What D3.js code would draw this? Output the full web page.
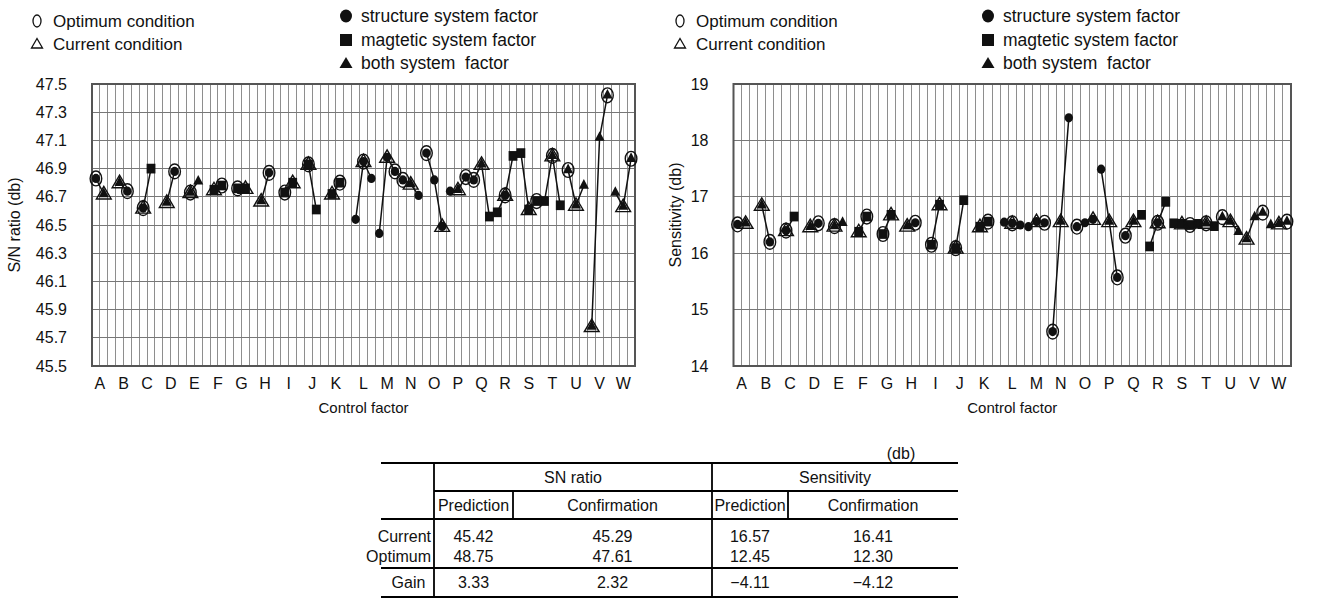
<!DOCTYPE html>
<html><head><meta charset="utf-8">
<script src="https://cdn.jsdelivr.net/npm/d3@7"></script>
<style>
body{margin:0;background:#fff;}
svg{display:block;}
text{font-family:"Liberation Sans",Arial,sans-serif;fill:#111;}
</style>
</head><body><svg id="c" width="1321" height="605"></svg>
<script>
// ---------------- data ----------------
const factors = ["A","B","C","D","E","F","G","H","I","J","K","L","M","N","O","P","Q","R","S","T","U","V","W"];
// marker of each level: c = structure (circle), s = magnetic (square), t = both (triangle)
const markerTypes = [
  ["c","t"],["t","c"],["c","s"],["t","c"],["t","t"],["s","s"],["s","s"],["t","c"],["s","s"],["s","s"],["s","s"],
  ["c","c","c"],["c","c","c"],["c","t","c"],["c","c","c"],["c","t","c"],["c","t","s"],["s","c","s"],
  ["s","s","s"],["s","t","s"],["t","t","t"],["t","t","t"],["t","t","t"]
];
const snRatio = [
  [46.83,46.72],[46.80,46.74],[46.62,46.90],[46.66,46.88],[46.73,46.81],[46.75,46.78],[46.76,46.76],
  [46.67,46.87],[46.73,46.80],[46.93,46.61],[46.72,46.80],
  [46.54,46.95,46.83],[46.44,46.98,46.88],[46.82,46.79,46.71],[47.01,46.82,46.49],[46.74,46.75,46.84],
  [46.82,46.93,46.56],[46.59,46.71,46.99],[47.01,46.61,46.67],[46.67,46.99,46.64],[46.89,46.64,46.78],
  [45.78,47.12,47.42],[46.73,46.63,46.97]
];
const sensitivity = [
  [16.51,16.53],[16.85,16.20],[16.40,16.65],[16.47,16.53],[16.48,16.54],[16.38,16.65],[16.34,16.68],
  [16.48,16.54],[16.15,16.86],[16.09,16.94],[16.47,16.56],
  [16.55,16.53,16.50],[16.47,16.56,16.54],[14.61,16.56,18.40],[16.47,16.54,16.60],[17.49,16.56,15.57],
  [16.31,16.56,16.68],[16.12,16.54,16.91],[16.53,16.52,16.50],[16.52,16.53,16.48],[16.64,16.56,16.38],
  [16.25,16.64,16.72],[16.50,16.52,16.56]
];
const optimumLevel = [0,1,0,1,0,1,0,1,0,0,1,1,2,0,0,2,0,1,2,1,0,2,2];
const currentLevel = [1,0,0,0,0,0,1,0,1,0,0,1,1,1,2,1,1,1,1,1,1,0,1];
const slotsPerFactor = 3;
const snTicks = [45.5,45.7,45.9,46.1,46.3,46.5,46.7,46.9,47.1,47.3,47.5];
const sensTicks = [14,15,16,17,18,19];

const legendLeft = ["Optimum condition","Current condition"];
const legendRight = ["structure system factor","magtetic system factor","both system  factor"];

const tableGroups = ["SN ratio","Sensitivity"];
const tableCols = ["Prediction","Confirmation","Prediction","Confirmation"];
const tableRows = ["Current","Optimum","Gain"];
const tableValues = [
  ["45.42","45.29","16.57","16.41"],
  ["48.75","47.61","12.45","12.30"],
  ["3.33","2.32","\u22124.11","\u22124.12"]
];
const tableUnit = "(db)";

// ---------------- drawing ----------------
const svg = d3.select("#c");
const nSlots = factors.length * slotsPerFactor;

function markerPath(type){
  if(type==="s") return d3.symbol().type(d3.symbolSquare).size(78)();
  if(type==="t") return d3.symbol().type(d3.symbolTriangle).size(44)();
  return null;
}

function drawChart(cfg){
  const g = svg.append("g");
  const x = d3.scaleBand().domain(d3.range(nSlots)).range([cfg.x0,cfg.x1]).padding(0);
  const y = d3.scaleLinear().domain(cfg.domain).range([cfg.y1,cfg.y0]);
  const cx = s => x(s) + x.bandwidth()/2;

  // grid
  const grid = g.append("g").attr("shape-rendering","crispEdges");
  grid.selectAll("line.v").data(d3.range(1,nSlots)).join("line")
    .attr("x1",d=>x(d)).attr("x2",d=>x(d)).attr("y1",cfg.y0).attr("y2",cfg.y1)
    .attr("stroke","#8e8e8e").attr("stroke-width",1);
  grid.selectAll("line.h").data(cfg.ticks.slice(1,-1)).join("line")
    .attr("x1",cfg.x0).attr("x2",cfg.x1).attr("y1",d=>y(d)).attr("y2",d=>y(d))
    .attr("stroke","#777").attr("stroke-width",1);
  g.append("rect").attr("x",cfg.x0).attr("y",cfg.y0).attr("width",cfg.x1-cfg.x0).attr("height",cfg.y1-cfg.y0)
    .attr("fill","none").attr("stroke","#555").attr("stroke-width",2);

  // y axis labels
  const yAxis = d3.axisLeft(y).tickValues(cfg.ticks).tickSize(0).tickPadding(25).tickFormat(cfg.fmt);
  const ya = g.append("g").attr("transform",`translate(${cfg.x0},0)`).call(yAxis);
  ya.select(".domain").remove();
  ya.selectAll("text").attr("font-size",16).attr("font-family","Liberation Sans, Arial, sans-serif").attr("fill","#111");

  // x factor labels, centred on each factor's levels
  g.selectAll("text.fl").data(factors).join("text")
    .attr("x",(d,i)=> d3.mean(cfg.values[i], (v,l)=>cx(i*slotsPerFactor+l)))
    .attr("y",cfg.y1+23).attr("text-anchor","middle").attr("font-size",16).text(d=>d);

  g.append("text").attr("x",(cfg.x0+cfg.x1)/2).attr("y",cfg.y1+47).attr("text-anchor","middle")
    .attr("font-size",15).text("Control factor");
  g.append("text").attr("transform",`translate(${cfg.titleX},${cfg.titleY}) rotate(-90)`)
    .attr("text-anchor","middle").attr("font-size",16).text(cfg.title);

  // points
  const pts = [];
  cfg.values.forEach((arr,f)=>arr.forEach((v,l)=>pts.push({f,l,v,slot:f*slotsPerFactor+l,type:markerTypes[f][l]})));

  const line = d3.line().x(d=>cx(d.slot)).y(d=>y(d.v));
  g.selectAll("path.ln").data(d3.range(factors.length)).join("path")
    .attr("d",f=>line(pts.filter(p=>p.f===f))).attr("fill","none").attr("stroke","#111").attr("stroke-width",1.5);

  // filled markers
  g.selectAll("ellipse.fc").data(pts.filter(p=>p.type==="c")).join("ellipse")
    .attr("cx",d=>cx(d.slot)).attr("cy",d=>y(d.v)).attr("rx",4.2).attr("ry",4.6).attr("fill","#111");
  g.selectAll("path.fm").data(pts.filter(p=>p.type!=="c")).join("path")
    .attr("transform",d=>`translate(${cx(d.slot)},${y(d.v)}) scale(1,1.1)`)
    .attr("d",d=>markerPath(d.type)).attr("fill","#111");

  // optimum (open circle) and current (open triangle)
  const opt = factors.map((f,i)=>pts.find(p=>p.f===i && p.l===optimumLevel[i]));
  const cur = factors.map((f,i)=>pts.find(p=>p.f===i && p.l===currentLevel[i]));
  g.selectAll("ellipse.oc").data(opt).join("ellipse")
    .attr("cx",d=>cx(d.slot)).attr("cy",d=>y(d.v)).attr("rx",5.8).attr("ry",7.4)
    .attr("fill","none").attr("stroke","#111").attr("stroke-width",1.4);
  g.selectAll("path.ot").data(cur).join("path")
    .attr("transform",d=>`translate(${cx(d.slot)},${y(d.v)})`)
    .attr("d","M0,-7.5L7.4,5L-7.4,5Z")
    .attr("fill","none").attr("stroke","#111").attr("stroke-width",1.4);

  // legends
  const lg = g.append("g").attr("transform",`translate(${cfg.legX},0)`);
  lg.append("ellipse").attr("cx",0).attr("cy",21).attr("rx",4).attr("ry",6).attr("fill","none").attr("stroke","#111").attr("stroke-width",1.3);
  lg.append("path").attr("transform","translate(0,44)").attr("d","M0,-5.5L5.5,4L-5.5,4Z").attr("fill","none").attr("stroke","#111").attr("stroke-width",1.3);
  lg.selectAll("text.l1").data(legendLeft).join("text").attr("x",16).attr("y",(d,i)=>27+i*23).attr("font-size",17).text(d=>d);

  const lg2 = g.append("g").attr("transform",`translate(${cfg.legX2},0)`);
  lg2.append("ellipse").attr("cx",0).attr("cy",16).attr("rx",6).attr("ry",6.5).attr("fill","#111");
  lg2.append("rect").attr("x",-6).attr("y",34).attr("width",12).attr("height",12).attr("fill","#111");
  lg2.append("path").attr("transform","translate(0,63)").attr("d","M0,-6L6.5,5L-6.5,5Z").attr("fill","#111");
  lg2.selectAll("text.l2").data(legendRight).join("text").attr("x",15).attr("y",(d,i)=>22+i*23.5)
    .attr("font-size",17.5).attr("xml:space","preserve").style("white-space","pre").text(d=>d);
}

drawChart({x0:92,x1:635,y0:84,y1:366,domain:[45.5,47.5],ticks:snTicks,fmt:d3.format(".1f"),values:snRatio,
  title:"S/N ratio (db)",titleX:20,titleY:225,legX:37,legX2:346});
drawChart({x0:733.5,x1:1291,y0:84,y1:366,domain:[14,19],ticks:sensTicks,fmt:d3.format("d"),values:sensitivity,
  title:"Sensitivity (db)",titleX:681,titleY:215,legX:680,legX2:988});

// ---------------- table ----------------
const t = svg.append("g").attr("class","tbl");
const colEdges = [381,434,513,712,788,958];   // x boundaries of table columns
const rowY = {top:463,h1:491,h2:519,data:568,bottom:597};
const colX = d3.scaleOrdinal().domain(d3.range(4)).range(d3.range(4).map(i=>(colEdges[i+1]+colEdges[i+2])/2));
const hline = (y,xa,xb)=>t.append("line").attr("x1",xa).attr("x2",xb).attr("y1",y).attr("y2",y).attr("stroke","#000").attr("stroke-width",1.8);
const vline = (x,ya,yb)=>t.append("line").attr("x1",x).attr("x2",x).attr("y1",ya).attr("y2",yb).attr("stroke","#000").attr("stroke-width",1.8);
hline(rowY.top,colEdges[0],colEdges[5]);
hline(rowY.h1,colEdges[1],colEdges[5]);
hline(rowY.h2,colEdges[0],colEdges[5]);
hline(rowY.data,colEdges[0],colEdges[5]);
hline(rowY.bottom,colEdges[0],colEdges[5]);
vline(colEdges[1],rowY.top,rowY.bottom);
vline(colEdges[3],rowY.top,rowY.bottom);
vline(colEdges[2],rowY.h1,rowY.h2);
vline(colEdges[4],rowY.h1,rowY.h2);
const fs = 16;
const rowBase = [rowY.h2+23,rowY.h2+42.5,rowY.data+20];
t.append("text").attr("x",901).attr("y",rowY.top-4).attr("text-anchor","middle").attr("font-size",fs).text(tableUnit);
t.selectAll("text.g").data(tableGroups).join("text")
  .attr("x",(d,i)=>(colEdges[1+2*i]+colEdges[3+2*i])/2).attr("y",rowY.h1-8).attr("text-anchor","middle").attr("font-size",fs).text(d=>d);
t.selectAll("text.c").data(tableCols).join("text")
  .attr("x",(d,i)=>colX(i)).attr("y",rowY.h2-8).attr("text-anchor","middle").attr("font-size",fs).text(d=>d);
t.selectAll("text.r").data(tableRows).join("text")
  .attr("x",(d,i)=> i<2 ? colEdges[1]-3 : (colEdges[0]+colEdges[1])/2+1)
  .attr("y",(d,i)=>rowBase[i])
  .attr("text-anchor",(d,i)=> i<2 ? "end" : "middle").attr("font-size",fs).text(d=>d);
tableValues.forEach((row,ri)=>{
  t.selectAll("text.v"+ri).data(row).join("text")
    .attr("x",(d,i)=>colX(i)).attr("y",rowBase[ri])
    .attr("text-anchor","middle").attr("font-size",fs).text(d=>d);
});
</script>
</body></html>
